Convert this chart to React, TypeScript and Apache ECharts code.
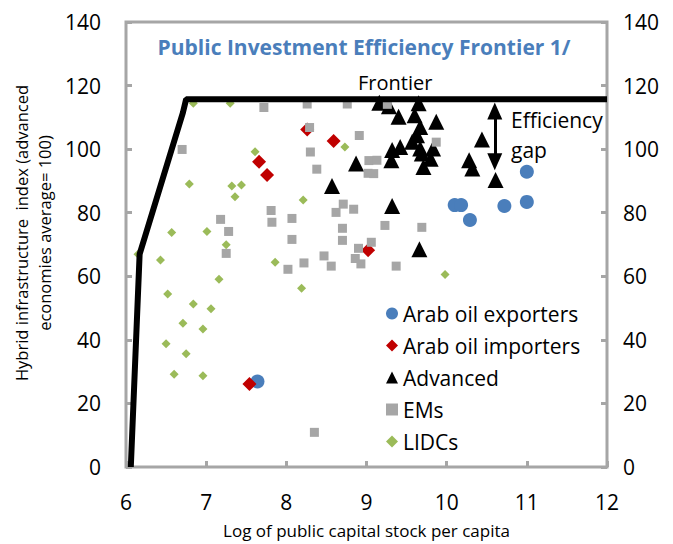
import React, { useEffect, useRef } from "react";
import * as echarts from "echarts";

const seriesNames = ["Arab oil exporters", "Arab oil importers", "Advanced", "EMs", "LIDCs"];

const arabOilExporters: number[][] = [
  [7.64, 26.9], [10.1, 82.4], [10.18, 82.4], [10.29, 77.7], [10.72, 82.1], [11.0, 83.4], [11.0, 92.9],
];

const arabOilImporters: number[][] = [
  [7.54, 26.1], [7.66, 96.0], [7.76, 91.9], [8.26, 106.2], [8.59, 102.6], [9.02, 68.2],
];

const advanced: number[][] = [
  [9.16, 114.6], [9.28, 113.5], [9.65, 114.4], [9.4, 110.2], [9.6, 110.7], [9.87, 108.6],
  [9.67, 107.0], [9.63, 104.4], [9.57, 102.3], [9.42, 100.7], [9.32, 99.7], [9.67, 100.2],
  [9.83, 100.2], [9.69, 98.6], [9.8, 97.0], [9.31, 96.5], [9.71, 94.4], [8.87, 95.5],
  [8.57, 88.4], [9.32, 82.1], [9.66, 68.5], [10.44, 103.0], [10.28, 96.5], [10.32, 93.9],
  [10.61, 90.3],
];

const ems: number[][] = [
  [7.72, 113.1], [6.7, 99.9], [7.81, 80.7], [8.07, 78.2], [7.18, 77.9], [7.82, 77.0],
  [7.28, 74.1], [8.07, 71.6], [7.25, 67.2], [8.02, 62.2], [8.26, 114.2], [8.76, 114.2],
  [9.26, 114.1], [8.29, 106.8], [8.91, 104.3], [8.3, 99.1], [9.87, 102.2], [9.03, 96.4],
  [9.13, 96.5], [8.38, 93.7], [9.02, 92.4], [9.09, 92.3], [8.71, 82.7], [8.62, 80.1],
  [8.84, 81.1], [8.7, 75.1], [9.23, 76.0], [9.69, 75.4], [8.7, 71.3], [9.06, 70.7],
  [8.9, 68.8], [8.47, 66.4], [8.86, 65.6], [8.22, 64.2], [8.56, 63.2], [8.93, 63.9],
  [9.37, 63.2], [8.35, 10.9],
];

const lidcs: number[][] = [
  [6.84, 114.4], [7.3, 114.4], [7.61, 99.2], [6.79, 89.0], [7.32, 88.4], [7.44, 88.7],
  [7.36, 85.0], [6.57, 73.8], [7.01, 74.1], [7.25, 69.9], [6.43, 65.1], [6.15, 66.9],
  [7.86, 64.4], [7.16, 59.1], [6.52, 54.4], [6.84, 51.3], [7.06, 49.8], [6.71, 45.2],
  [6.96, 43.4], [6.5, 38.8], [6.75, 35.6], [6.6, 29.2], [6.96, 28.7], [8.73, 100.7],
  [8.21, 84.0], [9.98, 60.6], [8.19, 56.2],
];

const frontierX = [6.06, 6.17, 6.71, 6.75, 12];
const frontierY = [0, 67, 111.5, 115.7, 115.7];

const gapX = 10.6;
const gapTop = 112;
const gapBottom = 96;

const xTicks = { min: 6, max: 12, interval: 1 };
const yTicks = { min: 0, max: 140, interval: 20 };

const FONT = "'Open Sans', sans-serif";
const GREY = "#a6a6a6";

export default function App() {
  const ref = useRef<HTMLDivElement>(null);

  useEffect(() => {
    document.body.style.margin = "0";
    if (!ref.current) return;
    const chart = echarts.init(ref.current, null, { renderer: "svg" });

    const frontier = frontierX.map((x, i) => [x, frontierY[i]]);

    const yAxisCommon = {
      type: "value" as const,
      min: yTicks.min,
      max: yTicks.max,
      interval: yTicks.interval,
      splitLine: { show: false },
      axisLine: { show: false },
      axisTick: { show: true, inside: true, length: 6, lineStyle: { color: GREY, width: 3 } },
      axisLabel: { fontSize: 21, color: "#000", fontFamily: FONT },
    };

    chart.setOption({
      animation: false,
      textStyle: { fontFamily: FONT },
      grid: {
        left: 126,
        right: 66,
        top: 22,
        bottom: 77,
        show: true,
        borderColor: GREY,
        borderWidth: 3,
        backgroundColor: "transparent",
      },
      xAxis: {
        type: "value",
        min: xTicks.min,
        max: xTicks.max,
        interval: xTicks.interval,
        splitLine: { show: false },
        axisLine: { show: false },
        axisTick: { show: true, inside: true, length: 6, lineStyle: { color: GREY, width: 3 } },
        axisLabel: { fontSize: 21, color: "#000", fontFamily: FONT, margin: 24 },
        name: "Log of public capital stock per capita",
        nameLocation: "middle",
        nameGap: 55,
        nameTextStyle: { fontSize: 17, color: "#000", fontFamily: FONT },
      },
      yAxis: [
        { ...yAxisCommon, position: "left", axisLabel: { ...yAxisCommon.axisLabel, margin: 25 } },
        { ...yAxisCommon, position: "right", axisLabel: { ...yAxisCommon.axisLabel, margin: 16 } },
      ],
      legend: {
        orient: "vertical",
        left: 381,
        top: 298,
        itemWidth: 12,
        itemHeight: 12,
        itemGap: 11,
        data: seriesNames,
        textStyle: { fontSize: 21, color: "#000", fontFamily: FONT, padding: [0, 0, 0, 0] },
      },
      graphic: [
        {
          type: "text",
          x: 364,
          y: 47,
          style: {
            text: "Public Investment Efficiency Frontier 1/",
            fontSize: 21,
            fontWeight: "bold",
            fill: "#4a7ebb",
            fontFamily: FONT,
            align: "center",
            verticalAlign: "middle",
          },
        },
        {
          type: "text",
          x: 358,
          y: 82,
          style: { text: "Frontier", fontSize: 20, fill: "#000", fontFamily: FONT, verticalAlign: "middle" },
        },
        {
          type: "text",
          x: 511,
          y: 135,
          style: {
            text: "Efficiency\ngap",
            fontSize: 21,
            lineHeight: 30,
            fill: "#000",
            fontFamily: FONT,
            verticalAlign: "middle",
          },
        },
        {
          type: "text",
          x: 33,
          y: 233,
          rotation: Math.PI / 2,
          style: {
            text: "Hybrid infrastructure  index (advanced\neconomies average= 100)",
            fontSize: 16.5,
            lineHeight: 23,
            align: "center",
            verticalAlign: "middle",
            fill: "#000",
            fontFamily: FONT,
          },
        },
      ],
      series: [
        {
          name: seriesNames[0],
          type: "scatter",
          data: arabOilExporters,
          symbol: "circle",
          symbolSize: 14,
          itemStyle: { color: "#4a7ebb", opacity: 1 },
          z: 2,
        },
        {
          name: seriesNames[1],
          type: "scatter",
          data: arabOilImporters,
          symbol: "diamond",
          symbolSize: 14,
          itemStyle: { color: "#c00000", opacity: 1 },
          z: 3,
        },
        {
          name: seriesNames[2],
          type: "scatter",
          data: advanced,
          symbol: "triangle",
          symbolSize: [16, 16],
          itemStyle: { color: "#000", opacity: 1 },
          z: 4,
        },
        {
          name: seriesNames[3],
          type: "scatter",
          data: ems,
          symbol: "rect",
          symbolSize: 9,
          itemStyle: { color: GREY, opacity: 1 },
          z: 5,
        },
        {
          name: seriesNames[4],
          type: "scatter",
          data: lidcs,
          symbol: "diamond",
          symbolSize: 9,
          itemStyle: { color: "#9bbb59", opacity: 1 },
          z: 6,
        },
        {
          name: "Frontier",
          type: "line",
          data: frontier,
          symbol: "none",
          lineStyle: { color: "#000", width: 6 },
          z: 7,
          silent: true,
          markLine: {
            silent: true,
            symbol: ["triangle", "triangle"],
            symbolSize: [15, 17],
            label: { show: false },
            lineStyle: { color: "#000", width: 3, type: "solid" },
            data: [[{ coord: [gapX, gapTop] }, { coord: [gapX, gapBottom] }]],
          },
        },
      ],
    });

    return () => chart.dispose();
  }, []);

  return <div ref={ref} style={{ width: 673, height: 544 }} />;
}
